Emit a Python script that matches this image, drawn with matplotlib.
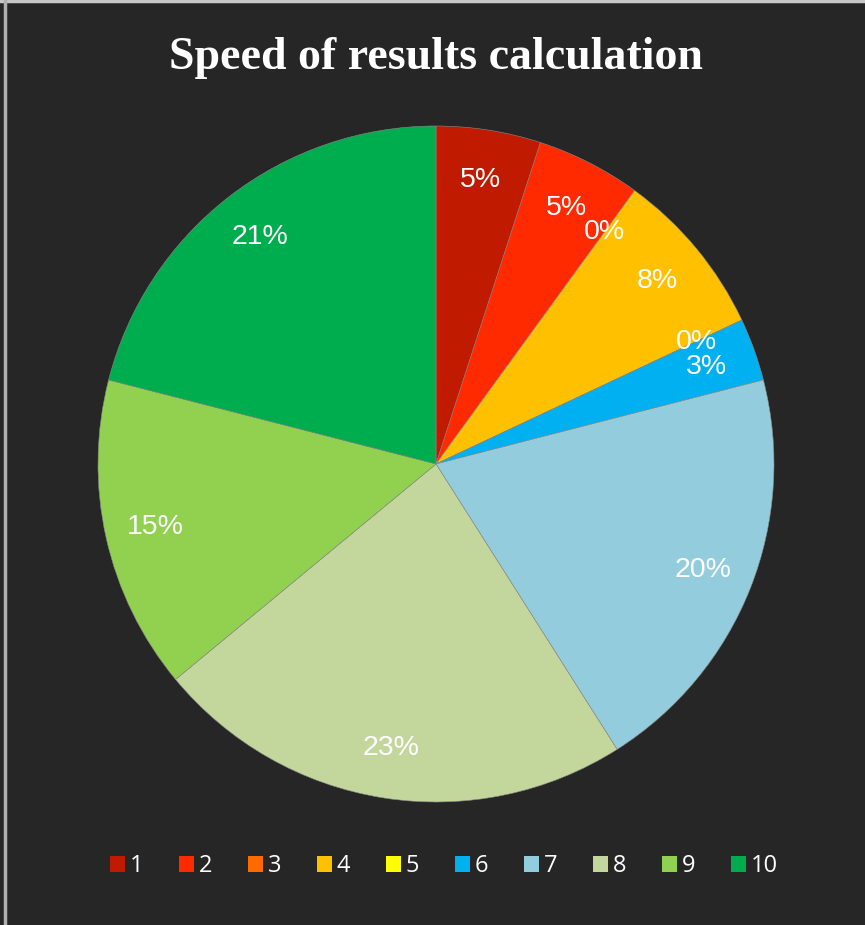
import matplotlib.pyplot as plt
from matplotlib.patches import Patch
from matplotlib.lines import Line2D

# Share of responses per speed rating (percent)
ratings = ["1", "2", "3", "4", "5", "6", "7", "8", "9", "10"]
shares = [5, 5, 0, 8, 0, 3, 20, 23, 15, 21]
colors = ["#C01A00", "#FF2A00", "#FF6A00", "#FFC000", "#FFFF00",
          "#00B0F0", "#93CDDD", "#C3D69B", "#92D050", "#00AD4E"]

bg = "#262626"

fig = plt.figure(figsize=(8.65, 9.25), dpi=100)
fig.patch.set_facecolor(bg)

# light frame lines at the top and left edge
fig.add_artist(Line2D([0, 1], [0.9985, 0.9985], color="#c8c8c8", lw=2.5,
                      transform=fig.transFigure))
fig.add_artist(Line2D([0.006, 0.006], [0, 1], color="#b0b0b0", lw=2.5,
                      transform=fig.transFigure))

# pie centred at (436, 464) px with radius ~338 px
ax = fig.add_axes([(436 - 338) / 865, (925 - 802) / 925, 676 / 865, 676 / 925])
ax.set_facecolor(bg)
wedges, texts, autotexts = ax.pie(
    shares,
    colors=colors,
    startangle=90,
    counterclock=False,
    autopct=lambda p: f"{p:.0f}%",
    pctdistance=0.85,
    wedgeprops=dict(linewidth=0.4, edgecolor="#8a8a8a"),
    textprops=dict(color="white", fontsize=20.5, family="Liberation Sans"),
    radius=1.0,
)
ax.set_xlim(-1, 1)
ax.set_ylim(-1, 1)
ax.set_aspect("equal")
ax.axis("off")

fig.text(436 / 865, 1 - 58 / 925, "Speed of results calculation",
         ha="center", va="center", color="white", fontsize=33,
         fontweight="bold", family="Liberation Serif")

handles = [Patch(facecolor=c, edgecolor="none") for c in colors]
leg = fig.legend(handles, ratings, loc="center", ncol=10,
                 bbox_to_anchor=(444 / 865, 1 - 866 / 925),
                 frameon=False, handlelength=0.65, handleheight=0.65,
                 handletextpad=0.2, columnspacing=1.5,
                 prop=dict(family="Open Sans", size=17))
for t in leg.get_texts():
    t.set_color("white")

plt.savefig("out.png", dpi=100, facecolor=bg)
